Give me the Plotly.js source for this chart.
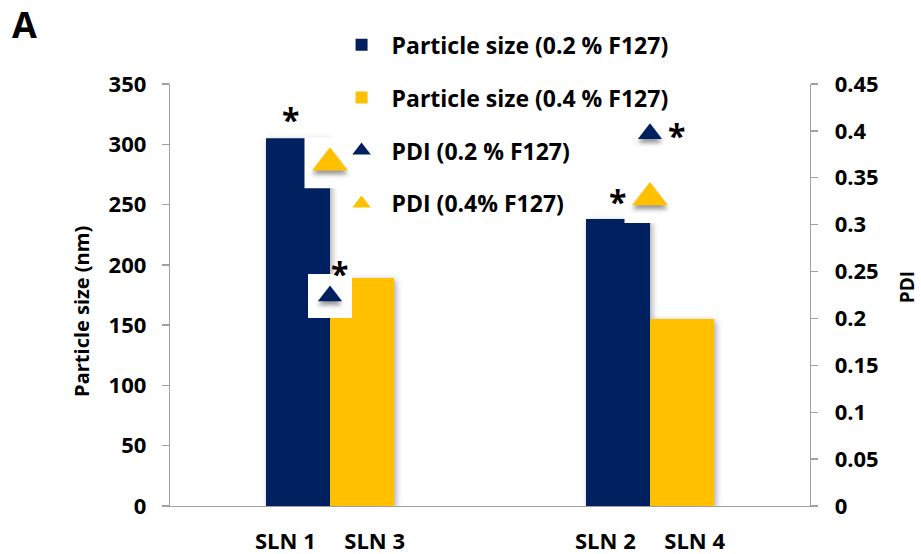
<!DOCTYPE html>
<html>
<head>
<meta charset="utf-8">
<script src="https://cdn.plot.ly/plotly-3.0.1.min.js"></script>
<style>
  html, body { margin: 0; padding: 0; background: #ffffff; }
  #chart { width: 921px; height: 554px; }
  /* soft drop shadows on the bars and the PDI triangles */
  #chart .barlayer .point path { filter: drop-shadow(2px 2px 3px rgba(0, 0, 0, 0.35)); }
  #chart .scatterlayer .trace:nth-of-type(3) path.point,
  #chart .scatterlayer .trace:nth-of-type(4) path.point {
    filter: drop-shadow(0px 4px 2px rgba(0, 0, 0, 0.4));
  }
</style>
</head>
<body>
<div id="chart"></div>
<script>
// Formulations: each group pairs the 0.2 % and 0.4 % F127 batches
const lowLabels  = ['SLN 1', 'SLN 2'];
const highLabels = ['SLN 3', 'SLN 4'];
const groups = lowLabels.map((l, i) => l + '\u00a0\u00a0\u00a0\u00a0\u00a0' + highLabels[i]);

// Particle size (nm)
const sizeLow  = [305, 238];   // 0.2 % F127
const sizeHigh = [189, 155];   // 0.4 % F127

// Polydispersity index
const pdiLow  = [0.224, 0.397]; // 0.2 % F127
const pdiHigh = [0.366, 0.329]; // 0.4 % F127

const NAVY = '#002060';
const GOLD = '#FFC000';
const AXIS = '#a0a0a0';
const FONT = { family: 'Open Sans, sans-serif', weight: 700, color: '#000000' };
const f = (size) => Object.assign({}, FONT, { size: size });

const traces = [
  { type: 'bar', name: 'Particle size (0.2 % F127)', x: groups, y: sizeLow,
    marker: { color: NAVY }, legendgroup: 'a', yaxis: 'y' },
  { type: 'bar', name: 'Particle size (0.4 % F127)', x: groups, y: sizeHigh,
    marker: { color: GOLD }, legendgroup: 'b', yaxis: 'y' },
  // white backing tiles behind the PDI markers
  { type: 'scatter', mode: 'markers', x: groups, y: pdiHigh, yaxis: 'y2',
    marker: { symbol: 'square', size: 51, color: '#ffffff' },
    showlegend: false, hoverinfo: 'skip' },
  { type: 'scatter', mode: 'markers', x: groups, y: pdiLow, yaxis: 'y2',
    marker: { symbol: 'square', size: 44, color: '#ffffff' },
    showlegend: false, hoverinfo: 'skip' },
  { type: 'scatter', mode: 'markers', name: 'PDI (0.2 % F127)', x: groups, y: pdiLow,
    yaxis: 'y2', legendgroup: 'c',
    marker: { symbol: 'triangle-up', size: 21, color: NAVY } },
  { type: 'scatter', mode: 'markers', name: 'PDI (0.4% F127)', x: groups, y: pdiHigh,
    yaxis: 'y2', legendgroup: 'd',
    marker: { symbol: 'triangle-up', size: 31, color: GOLD } }
];

const star = (x, y, yref, dx, dy) => ({
  text: '*', x: x, y: y, xref: 'x', yref: yref, xshift: dx, yshift: dy,
  showarrow: false, font: f(32)
});

const layout = {
  width: 921, height: 554,
  margin: { l: 170, r: 111, t: 84, b: 48, pad: 0, autoexpand: false },
  paper_bgcolor: '#ffffff', plot_bgcolor: '#ffffff',
  barmode: 'group', bargap: 0.6, bargroupgap: 0,
  font: f(22),
  showlegend: true,
  legend: {
    xref: 'container', yref: 'container', x: 0.36, y: 0.958,
    xanchor: 'left', yanchor: 'top',
    bgcolor: 'rgba(0,0,0,0)', font: f(23),
    traceorder: 'grouped', tracegroupgap: 20, itemwidth: 50
  },
  xaxis: {
    type: 'category', showline: true, linecolor: AXIS, linewidth: 1.3,
    ticks: '', showgrid: false, zeroline: false, tickfont: f(22),
    tickangle: 0, ticklabelstandoff: 15, automargin: false
  },
  yaxis: {
    range: [0, 350], dtick: 50, showline: true, linecolor: AXIS, linewidth: 1.3,
    ticks: 'outside', ticklen: 7, tickcolor: AXIS, tickwidth: 1.3,
    showgrid: false, zeroline: false, tickfont: f(22), ticklabelstandoff: 11,
    automargin: false
  },
  yaxis2: {
    range: [0, 0.45], dtick: 0.05, overlaying: 'y', side: 'right',
    showline: true, linecolor: AXIS, linewidth: 1.3,
    ticks: 'outside', ticklen: 7, tickcolor: AXIS, tickwidth: 1.3,
    showgrid: false, zeroline: false, tickfont: f(22), ticklabelstandoff: 12,
    automargin: false
  },
  annotations: [
    // axis titles
    { text: 'Particle size (nm)', xref: 'paper', yref: 'paper', x: -0.1375, y: 0.46,
      xanchor: 'center', yanchor: 'middle',
      textangle: -90, showarrow: false, font: f(20) },
    { text: 'PDI', xref: 'paper', yref: 'paper', x: 1.152, y: 0.519,
      xanchor: 'center', yanchor: 'middle',
      textangle: -90, showarrow: false, font: f(19) },
    // significance markers
    star(groups[0], sizeLow[0], 'y', -40, 19),
    star(groups[0], pdiLow[0], 'y2', 9, 22),
    star(groups[1], pdiLow[1], 'y2', 26, -2),
    star(groups[1], pdiHigh[1], 'y2', -33, -4),
    // panel letter
    { text: 'A', xref: 'paper', yref: 'paper', x: -0.25, y: 1.14,
      xanchor: 'left', yanchor: 'middle', showarrow: false, font: f(36) }
  ]
};

Plotly.newPlot('chart', traces, layout, { staticPlot: true, displayModeBar: false });
</script>
</body>
</html>
